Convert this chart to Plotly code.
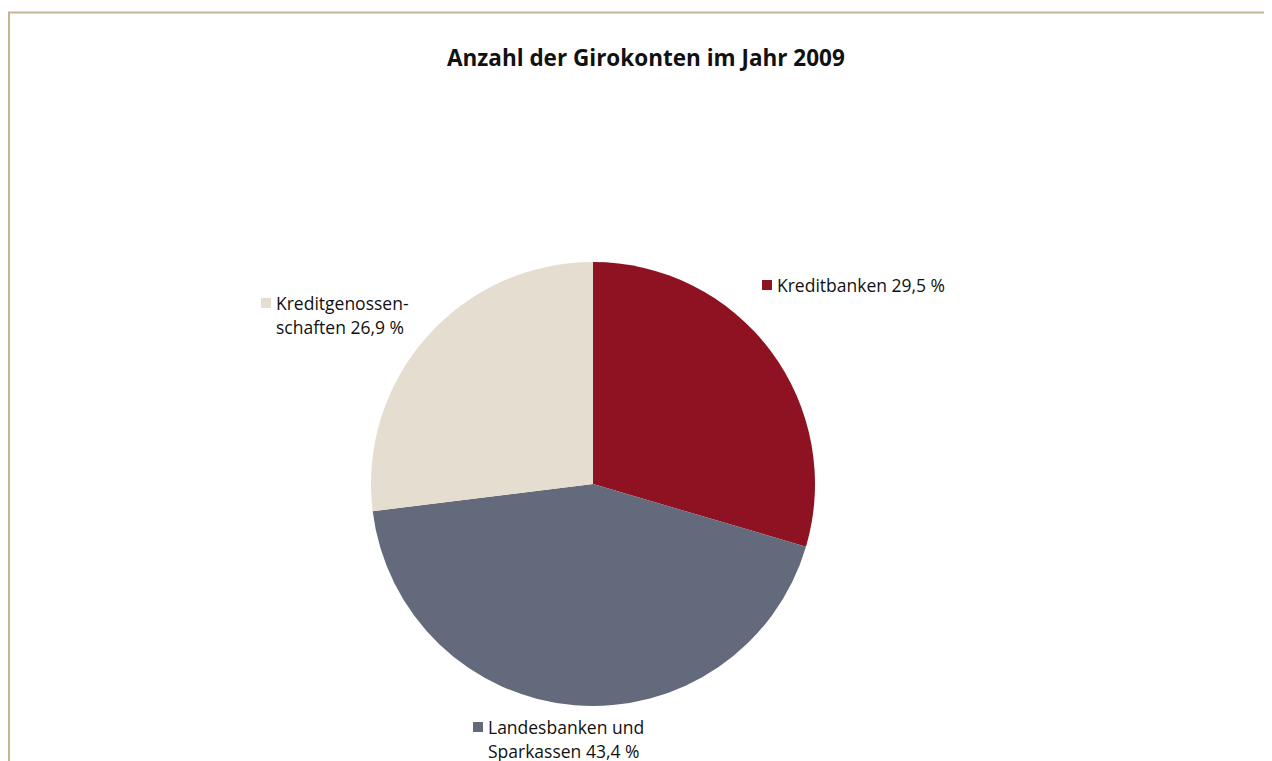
import plotly.graph_objects as go

categories = ["Kreditbanken", "Landesbanken und Sparkassen", "Kreditgenossenschaften"]
label_lines = [["Kreditbanken"], ["Landesbanken und", "Sparkassen"], ["Kreditgenossen-", "schaften"]]
values = [29.5, 43.4, 26.9]
colors = ["#8e1222", "#636a7b", "#e5ddd0"]
title = "Anzahl der Girokonten im Jahr 2009"

W, H = 1264, 761
OFF = 8  # page body margin
FONT = "Open Sans"

def px(x):
    return (x - OFF) / W

def py(y):
    return 1 - (y - OFF) / H

fig = go.Figure(go.Pie(
    labels=categories, values=values, sort=False, direction="clockwise", rotation=0,
    marker=dict(colors=colors, line=dict(width=0)),
    textinfo="none", hoverinfo="label+percent",
    domain=dict(x=[px(371), px(815)], y=[py(706), py(262)]),
    showlegend=False,
))

def fmt(v):
    return f"{v:.1f}".replace(".", ",") + " %"

label_pos = [(762, 285), (473, 727), (261, 303)]
annotations = [dict(text=f"<b>{title}</b>", x=px(646), y=py(57), xref="paper", yref="paper",
                    showarrow=False, xanchor="center", yanchor="middle",
                    font=dict(family=FONT, size=22.5, color="#111111"))]
shapes = [
    dict(type="line", xref="paper", yref="paper", x0=px(8), x1=1, y0=py(12.5), y1=py(12.5),
         line=dict(color="#c4b496", width=2)),
    dict(type="line", xref="paper", yref="paper", x0=px(9), x1=px(9), y0=py(12), y1=0,
         line=dict(color="#c4b496", width=2)),
]
for lines, v, c, (sx, sy) in zip(label_lines, values, colors, label_pos):
    shapes.append(dict(type="rect", xref="paper", yref="paper", x0=px(sx), x1=px(sx + 10),
                       y0=py(sy - 5), y1=py(sy + 5), fillcolor=c, line=dict(width=0)))
    full = lines[:-1] + [lines[-1] + " " + fmt(v)]
    for i, t in enumerate(full):
        annotations.append(dict(text=t, x=px(sx + 13), y=py(sy + 23.5 * i), xref="paper", yref="paper",
                                showarrow=False, xanchor="left", yanchor="middle",
                                font=dict(family=FONT, size=17.5, color="#111111")))

fig.update_layout(width=W, height=H, margin=dict(l=0, r=0, t=0, b=0),
                  paper_bgcolor="white", plot_bgcolor="white",
                  annotations=annotations, shapes=shapes)
fig.write_html("out.html")
